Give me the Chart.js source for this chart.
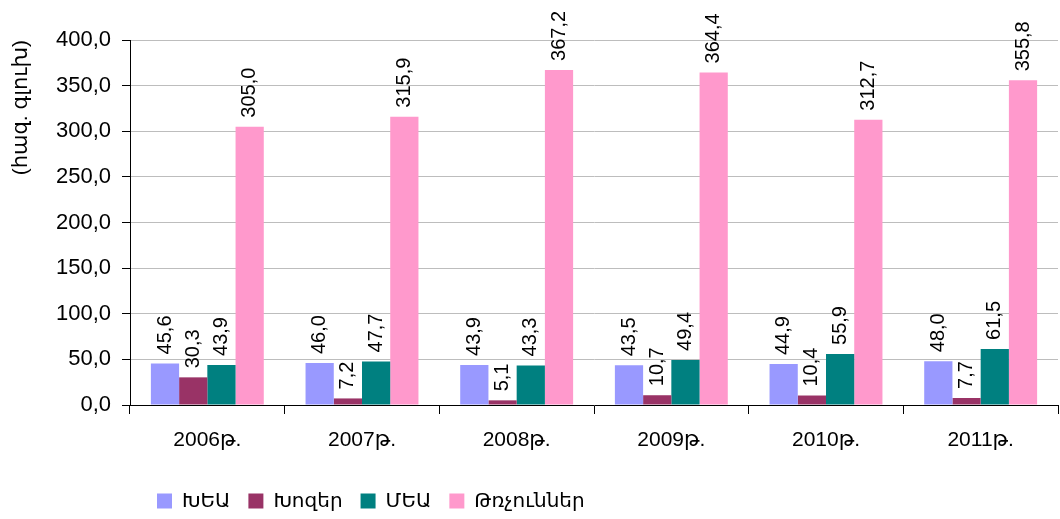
<!DOCTYPE html>
<html>
<head>
<meta charset="utf-8">
<script src="https://cdn.jsdelivr.net/npm/chart.js@4"></script>
<style>
  body { margin: 0; background: #fff; }
</style>
</head>
<body>
<canvas id="graphique1" width="1060" height="519"></canvas>
<script>
//les donnees du graphique
const annees = ['2006թ.', '2007թ.', '2008թ.', '2009թ.', '2010թ.', '2011թ.'];
const labels_series = ['ԽԵԱ', 'Խոզեր', 'ՄԵԱ', 'Թռչուններ'];
const data_khea = [45.6, 46.0, 43.9, 43.5, 44.9, 48.0];
const data_khozer = [30.3, 7.2, 5.1, 10.7, 10.4, 7.7];
const data_mea = [43.9, 47.7, 43.3, 49.4, 55.9, 61.5];
const data_trchunner = [305.0, 315.9, 367.2, 364.4, 312.7, 355.8];
const couleurs = ['#9999ff', '#993366', '#008080', '#ff99cc'];

const police = '"Liberation Sans", Arial, "DejaVu Sans", sans-serif';

//format avec virgule
function formatValeur(v){
  return v.toFixed(1).replace('.', ',');
}

function getDatasets(){
  const all_data = [data_khea, data_khozer, data_mea, data_trchunner];
  var datasets = [];
  labels_series.forEach((label, i) => {
    datasets.push({
      label: label,
      data: all_data[i],
      backgroundColor: couleurs[i],
      borderWidth: 0,
      categoryPercentage: 0.73,
      barPercentage: 1.0
    });
  });
  return datasets;
}

//etiquettes verticales au dessus des barres
const etiquettesPlugin = {
  id: 'etiquettes',
  afterDatasetsDraw(chart){
    const ctx = chart.ctx;
    ctx.save();
    ctx.font = '20px ' + police;
    ctx.fillStyle = '#000';
    ctx.textAlign = 'left';
    ctx.textBaseline = 'middle';
    chart.data.datasets.forEach((ds, i) => {
      chart.getDatasetMeta(i).data.forEach((bar, j) => {
        ctx.save();
        ctx.translate(bar.x, bar.y - 9);
        ctx.rotate(-Math.PI / 2);
        ctx.fillText(formatValeur(ds.data[j]), 0, 0);
        ctx.restore();
      });
    });
    ctx.restore();
  }
};

//decalage de la legende
const legendePlugin = {
  id: 'legendePos',
  afterLayout(chart){
    chart.legend.left = 139;
    chart.legend.top += 6;
  }
};

const graph1 = document.getElementById('graphique1');

new Chart(graph1, {
  type: 'bar',
  data: {
    labels: annees,
    datasets: getDatasets()
  },
  options: {
    responsive: false,
    animation: false,
    layout: {
      padding: { top: 40, right: 2, left: 0, bottom: 4 }
    },
    plugins: {
      legend: {
        position: 'bottom',
        align: 'start',
        labels: {
          font: { size: 20, family: police },
          color: '#000',
          boxWidth: 15,
          boxHeight: 15,
          padding: 18
        }
      },
      tooltip: { enabled: false }
    },
    scales: {
      x: {
        grid: {
          offset: true,
          drawOnChartArea: false,
          tickLength: 9,
          tickColor: '#000'
        },
        border: { color: '#000', width: 1 },
        ticks: {
          font: { size: 21, family: police },
          color: '#000',
          padding: 14
        },
        afterFit: scale => { scale.height = 62; }
      },
      y: {
        min: 0,
        max: 400,
        grid: {
          color: ctx => ctx.tick && ctx.tick.value === 0 ? 'rgba(0,0,0,0)' : '#bdbdbd',
          tickColor: '#000',
          tickLength: 8
        },
        border: { color: '#000', width: 1 },
        ticks: {
          stepSize: 50,
          font: { size: 22, family: police },
          color: '#000',
          padding: 11,
          callback: v => formatValeur(v)
        },
        title: {
          display: true,
          text: '(հազ. գլուխ)',
          align: 'end',
          font: { size: 21, family: police },
          color: '#000',
          padding: { top: 9, bottom: 0 }
        },
        afterFit: scale => { scale.width = 130; }
      }
    }
  },
  plugins: [etiquettesPlugin, legendePlugin]
});
</script>
</body>
</html>
